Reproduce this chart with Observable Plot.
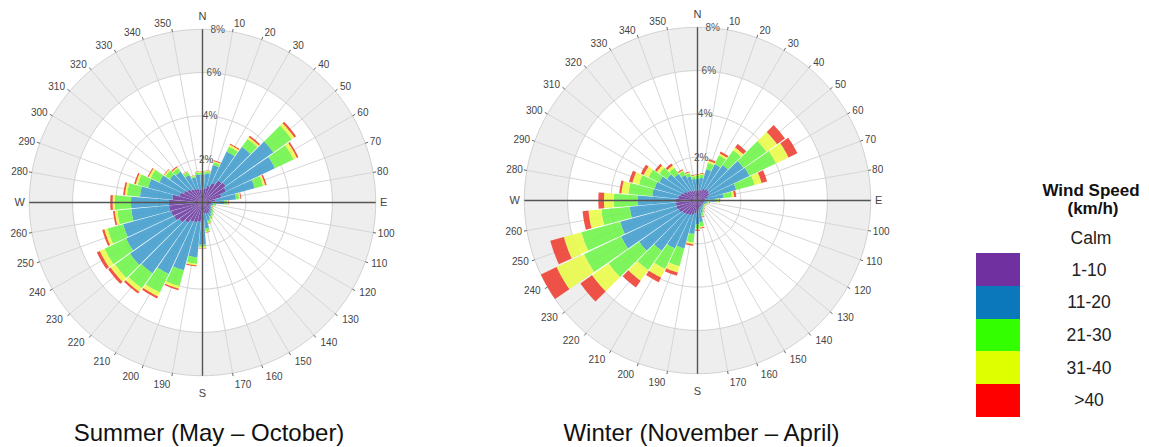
<!DOCTYPE html>
<html>
<head>
<meta charset="utf-8">
<script src="https://cdn.jsdelivr.net/npm/d3@7"></script>
<script src="https://cdn.jsdelivr.net/npm/@observablehq/plot@0.6"></script>
<style>
  body { margin: 0; background: #fff; font-family: "Liberation Sans", Arial, sans-serif; }
  #wrap { position: relative; width: 1149px; height: 447px; overflow: hidden; background: #fff; }
  .rose { position: absolute; }
  .lbl { position: absolute; transform: translate(-50%, -50%); white-space: nowrap; color: #222; }
  .title { font-size: 24px; color: #111; }
  .sw { position: absolute; }
</style>
</head>
<body>
<div id="wrap"></div>
<script>
// ---------------- data ----------------
const directions = d3.range(0, 360, 10);
const speedClasses = ["1-10", "11-20", "21-30", "31-40", ">40"];
const legendColors = ["#7030a0", "#0a78bb", "#33ff00", "#ddff00", "#ff0000"];
const chartColors = ["#6b3b9f", "#3f9bcc", "#6cf446", "#e8fb45", "#ee3b2e"];
const ringValues = [2, 4, 6, 8];
const ringLabels = ["2%", "4%", "6%", "8%"];
const compass = [{d: 0, t: "N"}, {d: 90, t: "E"}, {d: 180, t: "S"}, {d: 270, t: "W"}];
const seasonTitles = ["Summer (May \u2013 October)", "Winter (November \u2013 April)"];
const legendTitle = ["Wind Speed", "(km/h)"];
const calmLabel = "Calm";

// Summer: frequency (%) per direction for each speed class
const summer_1_10  = [0.6,0.65,0.8,1.0,1.25,1.3,1.2,0.9,0.6,0.4,0.4,0.35,0.4,0.45,0.5,0.55,0.55,0.5,0.8,0.9,0.95,1.0,1.15,1.3,1.45,1.5,1.55,1.55,1.4,1.1,0.95,0.85,0.75,0.7,0.65,0.6];
const summer_11_20 = [0.7,0.7,1.0,1.6,1.9,2.7,2.5,1.6,0.95,0.6,0.1,0.07,0.08,0.1,0.12,0.17,0.3,0.7,1.15,1.65,2.3,2.65,2.85,2.8,2.45,2.3,1.75,1.75,1.5,1.5,1.25,1.0,1.0,0.7,0.55,0.7];
const summer_21_30 = [0.1,0.1,0.13,0.25,0.45,1.05,0.95,0.4,0.15,0.15,0.08,0.06,0.06,0.08,0.1,0.1,0.12,0.13,0.1,0.3,0.75,0.95,0.85,0.85,1.1,0.75,0.65,0.75,0.6,0.5,0.45,0.25,0.2,0.15,0.07,0.1];
const summer_31_40 = [0.03,0.03,0.05,0.1,0.1,0.15,0.17,0.1,0.06,0.05,0.02,0.02,0.02,0.02,0.02,0.02,0.03,0.04,0.05,0.07,0.13,0.2,0.2,0.25,0.25,0.15,0.12,0.1,0.1,0.1,0.1,0.07,0.05,0.03,0.03,0.03];
const summer_40p   = [0.02,0.02,0.04,0.05,0.08,0.1,0.08,0.07,0.04,0.03,0.02,0.02,0.01,0.01,0.01,0.01,0.02,0.03,0.03,0.05,0.07,0.1,0.1,0.14,0.15,0.1,0.08,0.11,0.08,0.07,0.05,0.03,0.05,0.02,0.02,0.02];

// Winter: frequency (%) per direction for each speed class
const winter_1_10  = [0.45,0.45,0.5,0.6,0.65,0.65,0.6,0.5,0.35,0.3,0.3,0.28,0.28,0.28,0.3,0.3,0.32,0.4,0.5,0.6,0.7,0.75,0.8,0.85,0.95,1.0,1.0,1.0,0.9,0.8,0.7,0.6,0.55,0.5,0.45,0.45];
const winter_11_20 = [0.55,0.6,1.0,1.25,1.35,1.95,2.05,1.35,0.85,0.5,0.15,0.1,0.06,0.08,0.08,0.15,0.28,0.6,0.6,0.95,1.6,1.7,2.05,2.45,2.95,2.7,2.14,1.75,1.2,1.25,1.25,1.12,0.95,0.8,0.7,0.55];
const winter_21_30 = [0.15,0.15,0.3,0.45,0.85,1.3,1.35,0.88,0.4,0.15,0.07,0.06,0.04,0.06,0.08,0.1,0.13,0.2,0.2,0.4,0.85,1.05,1.09,1.73,1.9,1.86,1.32,1.11,1.1,0.75,0.55,0.43,0.35,0.2,0.15,0.12];
const winter_31_40 = [0.05,0.05,0.1,0.1,0.15,0.6,0.65,0.34,0.1,0.05,0.03,0.02,0.02,0.02,0.02,0.03,0.04,0.06,0.05,0.08,0.3,0.44,0.6,0.94,1.4,0.84,0.6,0.46,0.33,0.32,0.25,0.15,0.13,0.05,0.05,0.05];
const winter_40p   = [0.03,0.03,0.08,0.1,0.2,0.45,0.45,0.26,0.1,0.05,0.03,0.02,0.01,0.01,0.02,0.02,0.03,0.04,0.05,0.07,0.15,0.24,0.38,0.66,0.8,0.65,0.27,0.26,0.1,0.16,0.15,0.11,0.11,0.05,0.04,0.03];

const summerSeries = [summer_1_10, summer_11_20, summer_21_30, summer_31_40, summer_40p];
const winterSeries = [winter_1_10, winter_11_20, winter_21_30, winter_31_40, winter_40p];

// ---------------- drawing ----------------
const K = 21.65;      // pixels per percent
const HALF = 205;     // half size of each rose svg (px)
const BAR_HALF = 4.7; // half angular width of a bar (deg)
const rad = d => d * Math.PI / 180;
const px = (r, deg) => r * Math.sin(rad(deg));
const py = (r, deg) => r * Math.cos(rad(deg));

function circlePts(r, id) {
  return d3.range(0, 361, 2).map(a => ({x: px(r, a), y: py(r, a), id}));
}

function makeRose(series, cx, cy) {
  const R = HALF / K;
  const RMAX = d3.max(ringValues);

  // stacked wedge polygons
  const wedges = [];
  directions.forEach((dir, i) => {
    let base = 0;
    speedClasses.forEach((cls, j) => {
      const v = series[j][i];
      const r0 = base, r1 = base + v;
      base = r1;
      const id = dir + "_" + j;
      const n = 6;
      for (let t = 0; t <= n; t++) {
        const a = dir - BAR_HALF + 2 * BAR_HALF * t / n;
        wedges.push({x: px(r1, a), y: py(r1, a), id, cls});
      }
      for (let t = n; t >= 0; t--) {
        const a = dir - BAR_HALF + 2 * BAR_HALF * t / n;
        wedges.push({x: px(r0, a), y: py(r0, a), id, cls});
      }
    });
  });

  const bandsGray = [], bandsWhite = [], rings = [];
  [...ringValues].reverse().forEach((r, k) => {
    (k % 2 === 0 ? bandsGray : bandsWhite).push(...circlePts(r, "b" + r));
  });
  ringValues.forEach(r => rings.push(...circlePts(r, "r" + r)));

  const labelDirs = directions.filter(d => d % 90 !== 0);
  const labR = d => {
    const c = Math.cos(rad(d));
    return 8.15 + (c > 0 ? 0.22 : 0.43) * Math.abs(c);
  };
  const rightLabels = labelDirs.filter(d => d < 180);
  const leftLabels = labelDirs.filter(d => d > 180);
  const compassR = {N: 8.6, E: 8.2, S: 8.8, W: 8.2};

  const svg = Plot.plot({
    width: 2 * HALF,
    height: 2 * HALF,
    margin: 0,
    x: {axis: null, domain: [-R, R]},
    y: {axis: null, domain: [-R, R]},
    color: {domain: speedClasses, range: chartColors},
    style: {fontFamily: "'Liberation Sans', Arial, sans-serif", background: "transparent", overflow: "visible"},
    marks: [
      Plot.line(bandsGray, {x: "x", y: "y", z: "id", fill: "#eeeeee", stroke: "none"}),
      Plot.line(bandsWhite, {x: "x", y: "y", z: "id", fill: "#ffffff", stroke: "none"}),
      Plot.line(rings, {x: "x", y: "y", z: "id", stroke: "#d2d2d2", strokeWidth: 1}),
      Plot.link(directions, {x1: () => 0, y1: () => 0, x2: d => px(RMAX, d), y2: d => py(RMAX, d), stroke: "#d6d6d6", strokeWidth: 1}),
      Plot.line(wedges, {x: "x", y: "y", z: "id", fill: "cls", stroke: "none", fillOpacity: 0.88}),
      Plot.link([0, 90], {x1: d => px(-RMAX, d), y1: d => py(-RMAX, d), x2: d => px(RMAX, d), y2: d => py(RMAX, d), stroke: "#555", strokeWidth: 1.4}),
      Plot.link(labelDirs, {x1: d => px(RMAX, d), y1: d => py(RMAX, d), x2: d => px(RMAX + 0.14, d), y2: d => py(RMAX + 0.14, d), stroke: "#666", strokeWidth: 1}),
      Plot.text(rightLabels, {x: d => px(labR(d), d), y: d => py(labR(d), d), text: d => String(d), textAnchor: "start", fontSize: 10, fill: "#444"}),
      Plot.text(leftLabels, {x: d => px(labR(d), d), y: d => py(labR(d), d), text: d => String(d), textAnchor: "end", fontSize: 10, fill: "#444"}),
      Plot.text(compass.filter(c => c.t === "N" || c.t === "S"), {x: c => px(compassR[c.t], c.d), y: c => py(compassR[c.t], c.d), text: "t", textAnchor: "middle", fontSize: 11, fill: "#444"}),
      Plot.text(compass.filter(c => c.t === "E"), {x: c => px(compassR[c.t], c.d), y: c => py(compassR[c.t], c.d), text: "t", textAnchor: "start", fontSize: 11, fill: "#444"}),
      Plot.text(compass.filter(c => c.t === "W"), {x: c => px(compassR[c.t], c.d), y: c => py(compassR[c.t], c.d), text: "t", textAnchor: "end", fontSize: 11, fill: "#444"}),
      Plot.text(ringValues, {x: r => px(r, 5), y: r => py(r, 5), text: (r, i) => ringLabels[i], textAnchor: "middle", fontSize: 10, fill: "#555"})
    ]
  });
  svg.classList.add("rose");
  svg.style.left = (cx - HALF) + "px";
  svg.style.top = (cy - HALF) + "px";
  return svg;
}

const wrap = document.getElementById("wrap");
wrap.appendChild(makeRose(summerSeries, 201.7, 202.3));
wrap.appendChild(makeRose(winterSeries, 697, 200));

function addLabel(text, x, y, cls, extra) {
  const el = document.createElement("div");
  el.className = "lbl " + (cls || "");
  el.textContent = text;
  el.style.left = x + "px";
  el.style.top = y + "px";
  Object.assign(el.style, extra || {});
  wrap.appendChild(el);
}
addLabel(seasonTitles[0], 209, 433, "title");
addLabel(seasonTitles[1], 701.5, 433, "title");

// legend
addLabel(legendTitle[0], 1091, 191, "", {fontSize: "17px", fontWeight: "bold", color: "#111"});
addLabel(legendTitle[1], 1093, 209, "", {fontSize: "17px", fontWeight: "bold", color: "#111"});
addLabel(calmLabel, 1091, 238, "", {fontSize: "17.5px", color: "#222"});
const swTop = 253.3, swH = 32.7;
speedClasses.forEach((cls, i) => {
  const sw = document.createElement("div");
  sw.className = "sw";
  sw.style.left = "976px";
  sw.style.top = (swTop + i * swH) + "px";
  sw.style.width = "44px";
  sw.style.height = swH + "px";
  sw.style.background = legendColors[i];
  wrap.appendChild(sw);
  addLabel(cls, 1089, swTop + (i + 0.5) * swH, "", {fontSize: "17.5px", color: "#222"});
});
</script>
</body>
</html>
